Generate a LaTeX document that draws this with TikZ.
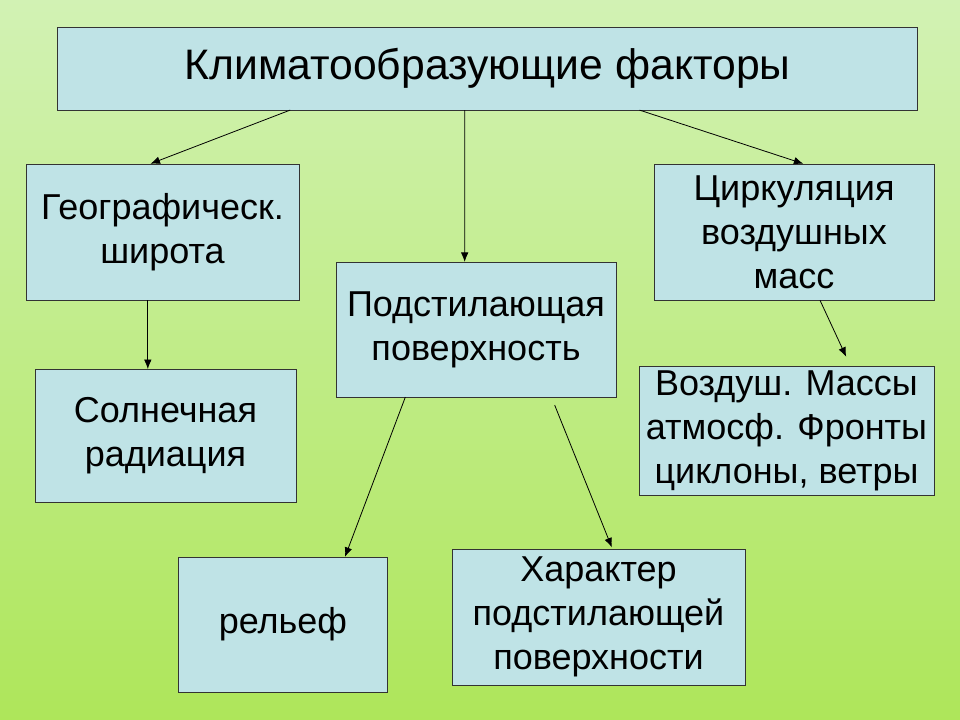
\documentclass[tikz,border=0pt]{standalone}
\usepackage{fontspec}
\setmainfont{Liberation Sans}
\usetikzlibrary{arrows.meta, positioning}
\definecolor{boxblue}{HTML}{BFE3E6}
\definecolor{bgtop}{HTML}{D2F2B4}
\definecolor{bgbottom}{HTML}{AEE65A}

\begin{document}
\begin{tikzpicture}[
  x=0.75pt, y=-0.75pt,
  factor/.style={
    rectangle,
    draw=black!80,
    fill=boxblue,
    align=center,
    inner sep=1pt,
    font=\fontsize{27}{33}\selectfont
  },
  link/.style={
    -{Latex[length=2.5mm, width=2mm]},
    draw=black,
    semithick
  }
]

% Background
\shade[top color=bgtop, bottom color=bgbottom] (0,0) rectangle (960,720);
\useasboundingbox (0,0) rectangle (960,720);

% Nodes
\node[factor, minimum width=645pt, minimum height=62pt, font=\fontsize{32}{36}\selectfont]
  (climate) at (487.5,68.5) {Климатообразующие факторы};
\node[factor, minimum width=205pt, minimum height=102pt] (latitude)    at (162.5,232) {Географическ.\\ широта};
\node[factor, minimum width=210pt, minimum height=102pt] (circulation) at (794,232)   {Циркуляция\\воздушных\\масс};
\node[factor, minimum width=210pt, minimum height=101pt] (surface)     at (476,329.5) {Подстилающая\\поверхность};
\node[factor, minimum width=196pt, minimum height=100pt] (radiation)   at (165.5,436) {Солнечная\\радиация};
\node[factor, minimum width=221pt, minimum height=97pt]  (masses)      at (786.5,431) {Воздуш. Массы\\атмосф. Фронты\\циклоны, ветры};
\node[factor, minimum width=157pt, minimum height=101pt] (relief)      at (283,624.5) {рельеф};
\node[factor, minimum width=220pt, minimum height=102pt] (character)   at (598.5,617) {Характер\\подстилающей\\ поверхности};

% Connectors
\draw[link] ([xshift=-148pt]climate.south) -- ([xshift=-9pt]latitude.north);
\draw[link] ([xshift=-17pt]climate.south) -- ([xshift=-8.5pt]surface.north);
\draw[link] ([xshift=114pt]climate.south) -- ([xshift=7pt]circulation.north);
\draw[link] ([xshift=-11pt]latitude.south) -- ([xshift=-13.25pt]radiation.north);
\draw[link] ([xshift=19.5pt]circulation.south) -- ([xshift=44.75pt,yshift=7pt]masses.north);
\draw[link] ([xshift=-53pt]surface.south) -- ([xshift=46.5pt]relief.north);
\draw[link] ([xshift=59pt,yshift=-6pt]surface.south) -- ([xshift=10pt,yshift=1pt]character.north);

\end{tikzpicture}
\end{document}
